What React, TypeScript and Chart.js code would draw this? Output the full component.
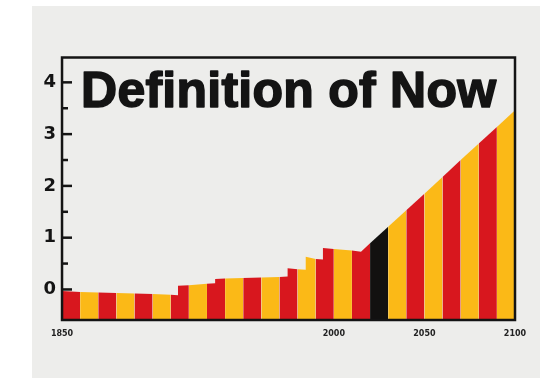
import React, { useEffect, useRef } from 'react';
import { Chart, registerables } from 'chart.js';

Chart.register(...registerables);

// ---- data ----
const TITLE = 'Definition of Now';
const profileYears = [
  1850, 1860, 1870, 1880, 1890, 1900, 1910, 1914, 1914, 1920, 1930, 1934.5, 1934.5,
  1940, 1950, 1960, 1970, 1974.5, 1974.5, 1980, 1984.5, 1984.5, 1990, 1994, 1994,
  2000, 2010, 2015, 2020, 2030, 2040, 2050, 2060, 2070, 2080, 2090, 2100,
];
const profileValues = [
  -0.03, -0.05, -0.06, -0.07, -0.08, -0.09, -0.1, -0.11, 0.07, 0.08, 0.11, 0.12, 0.2,
  0.21, 0.22, 0.23, 0.24, 0.25, 0.41, 0.39, 0.38, 0.63, 0.59, 0.58, 0.8,
  0.78, 0.75, 0.73, 0.89, 1.21, 1.53, 1.85, 2.17, 2.5, 2.82, 3.14, 3.46,
];
const xTickYears = [1850, 2000, 2050, 2100];
const xMinYear = 1850;
const xMaxYear = 2100;
const yMinValue = -0.59;
const yMaxValue = 4.48;
const yStep = 0.5;

// ---- styles ----
const RED = '#d8171e';
const YELLOW = '#fbb917';
const BLACK = '#121110';
const INK = '#141414';
const PAPER = '#ededeb';
const decadeColors = [
  RED, YELLOW, RED, YELLOW, RED, YELLOW, RED, YELLOW, RED, YELLOW, RED, YELLOW,
  RED, YELLOW, RED, YELLOW, RED, BLACK, YELLOW, RED, YELLOW, RED, YELLOW, RED, YELLOW,
];

function colorForYear(year: number) {
  const i = Math.max(0, Math.min(decadeColors.length - 1, Math.floor((year - xMinYear) / 10 + 1e-9)));
  return decadeColors[i];
}

const posterPlugin = {
  id: 'poster',
  beforeDatasetsDraw(chart: any) {
    const { ctx, chartArea, scales } = chart;
    const y = scales.y;
    ctx.save();
    ctx.strokeStyle = INK;
    ctx.lineWidth = 2.5;
    y.ticks.forEach((t: any) => {
      const v = t.value;
      if (v < -0.001) return;
      const major = Math.abs(v - Math.round(v)) < 1e-6;
      const py = y.getPixelForValue(v);
      ctx.beginPath();
      ctx.moveTo(chartArea.left, py);
      ctx.lineTo(chartArea.left + (major ? 10 : 6), py);
      ctx.stroke();
    });
    ctx.restore();
  },
  afterDatasetsDraw(chart: any) {
    const { ctx, chartArea } = chart;
    ctx.save();
    ctx.strokeStyle = INK;
    ctx.lineWidth = 2.5;
    ctx.strokeRect(chartArea.left, chartArea.top, chartArea.right - chartArea.left, chartArea.bottom - chartArea.top);
    ctx.fillStyle = INK;
    ctx.font = 'bold 50px "Liberation Sans", Arial, sans-serif';
    (ctx as any).letterSpacing = '0.25px';
    ctx.textBaseline = 'alphabetic';
    ctx.textAlign = 'left';
    const tx = chartArea.left + 19;
    const ty = chartArea.top + 49;
    ctx.fillText(TITLE, tx, ty);
    ctx.lineWidth = 1.6;
    ctx.lineJoin = 'round';
    ctx.strokeText(TITLE, tx, ty);
    ctx.restore();
  },
};

export default function App() {
  const ref = useRef<HTMLCanvasElement | null>(null);

  useEffect(() => {
    document.body.style.margin = '0';
    const canvas = ref.current;
    if (!canvas) return;
    const chart = new Chart(canvas, {
      type: 'line',
      data: {
        datasets: [
          {
            data: profileYears.map((x, i) => ({ x, y: profileValues[i] })),
            fill: 'start',
            borderWidth: 0,
            borderColor: 'rgba(0,0,0,0)',
            backgroundColor: RED,
            pointRadius: 0,
            tension: 0,
            segment: {
              backgroundColor: (c: any) => colorForYear(profileYears[c.p0DataIndex]),
            },
          },
        ],
      },
      options: {
        responsive: false,
        animation: false,
        devicePixelRatio: 1,
        layout: { padding: { left: 37.5, right: 25, top: 57.5, bottom: 30.4 } },
        plugins: {
          legend: { display: false },
          tooltip: { enabled: false },
          title: { display: false },
        },
        scales: {
          x: {
            type: 'linear',
            min: xMinYear,
            max: xMaxYear,
            grid: { display: false, drawTicks: false },
            border: { display: false },
            afterBuildTicks: (scale: any) => {
              scale.ticks = xTickYears.map((v) => ({ value: v }));
            },
            ticks: {
              autoSkip: false,
              maxRotation: 0,
              padding: 9,
              color: '#222',
              font: { family: '"DejaVu Sans", sans-serif', size: 8, weight: 'bold' },
              callback: (v: any) => String(v),
            },
          },
          y: {
            type: 'linear',
            min: yMinValue,
            max: yMaxValue,
            grid: { display: false, drawTicks: false },
            border: { display: false },
            ticks: {
              stepSize: yStep,
              includeBounds: false,
              padding: 6,
              color: INK,
              font: { family: '"DejaVu Sans", sans-serif', size: 18, weight: 'bold' },
              callback: (v: any) => (Math.abs(v - Math.round(v)) < 1e-6 ? String(Math.round(v)) : ''),
            },
          },
        },
      },
      plugins: [posterPlugin],
    } as any);
    return () => chart.destroy();
  }, []);

  return (
    <div style={{ position: 'fixed', left: 0, top: 0, width: 540, height: 378, background: '#ffffff', overflow: 'hidden' }}>
      <div style={{ position: 'absolute', left: 32, top: 6, right: 0, bottom: 0, background: PAPER }} />
      <canvas ref={ref} width={540} height={378} style={{ position: 'absolute', left: 0, top: 0, width: 540, height: 378 }} />
    </div>
  );
}
